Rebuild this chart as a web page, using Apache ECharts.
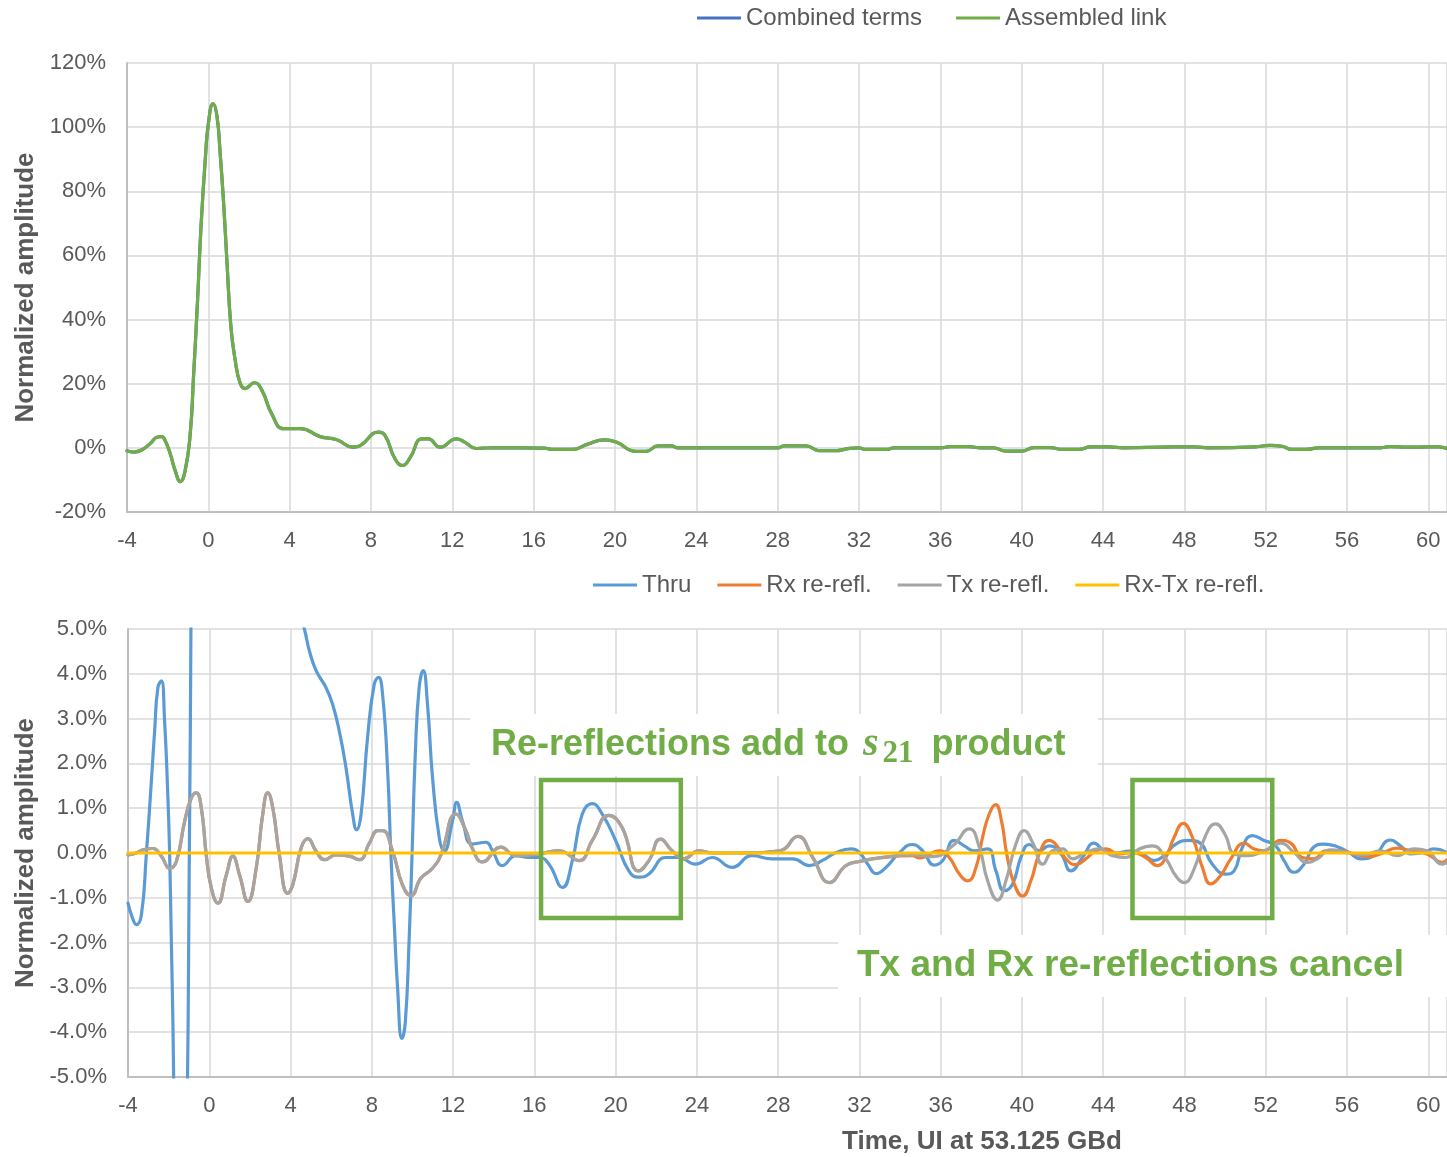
<!DOCTYPE html>
<html>
<head>
<meta charset="utf-8">
<script src="https://cdn.jsdelivr.net/npm/echarts@6/dist/echarts.min.js"></script>
<style>
  html, body { margin: 0; padding: 0; background: #ffffff; }
  #chart { width: 1447px; height: 1157px; }
</style>
</head>
<body>
<div id="chart"></div>
<script>
// Pulse response of the assembled link, in percent of the normalizing amplitude, vs. time in UI
const assembledLink = [
  [-4, -0.9], [-3.67, -1.3], [-3.26, -0.6], [-2.85, 1.4], [-2.5, 3.4], [-2.3, 3.5], [-2.15, 2.6],
  [-1.87, -1.9], [-1.63, -7.1], [-1.38, -10.5], [-1.14, -7.1], [-0.89, 4.4], [-0.73, 22], [-0.53, 46],
  [-0.36, 69], [-0.15, 90], [0.01, 101.5], [0.23, 107.3], [0.42, 103.6], [0.58, 92], [0.75, 76.5],
  [0.91, 58.7], [1.11, 37.8], [1.32, 27.4], [1.57, 20.1], [1.81, 18.5], [2.26, 20.3], [2.63, 18],
  [3.12, 10.6], [3.7, 6], [4.52, 6], [5.5, 3.5], [6.32, 2.5], [7.14, 0.2], [7.47, 0.7], [8.37, 4.9],
  [8.69, 3.9], [9.18, -3.4], [9.56, -5.5], [9.92, -3.1], [10.5, 2.8], [10.82, 2.8], [11.4, 0.2],
  [12.2, 2.8], [12.6, 1.8], [13.18, -0.2], [13.5, -0.1], [14, 0], [16.5, -0.1], [17.0, -0.5],
  [17.9, -0.5], [18.6, 1.0], [19.5, 2.5], [20.06, 1.8], [21.04, -1.1], [21.53, -1.1], [22.11, 0.6],
  [22.76, 0.6], [23.1, 0], [28.0, 0], [28.33, 0.6], [29.4, 0.6], [30.05, -0.9], [30.87, -0.9],
  [31.4, -0.3], [32.0, 0], [32.3, -0.5], [33.4, -0.5], [33.7, 0], [36.0, 0], [36.5, 0.4], [37.4, 0.4],
  [38.0, 0], [38.6, 0], [39.2, -1.0], [40.0, -1.0], [40.6, 0.1], [41.4, 0.1], [42.0, -0.5], [42.8, -0.5],
  [43.4, 0.3], [44.3, 0.3], [45.0, 0], [47.5, 0.3], [48.5, 0.3], [49.2, 0], [51.5, 0.3], [52.2, 0.8],
  [52.8, 0.5], [53.3, -0.5], [54.0, -0.5], [54.6, 0], [57.6, 0], [58.1, 0.4], [59.0, 0.2], [60.0, 0.3],
  [60.5, 0.3], [60.92, -0.2]
];
// The sum of the individual terms lies on top of the assembled link
const combinedTerms = assembledLink;

// Through path (goes far off the zoomed scale around the main cursor)
const thru = [
  [-4, -1.12], [-3.78, -1.45], [-3.59, -1.6], [-3.34, -1.38], [-3.1, -0.04], [-2.85, 1.6], [-2.69, 2.72],
  [-2.53, 3.69], [-2.36, 3.84], [-2.2, 2.95], [-2.03, 1.16], [-1.95, -0.04], [-1.87, -1.9], [-1.79, -3.77],
  [-1.7, -6.5], [-1.55, -9], [-1.4, -10.3], [-1.25, -9], [-1.12, -7.0], [-0.99, -0.5], [-0.89, 6],
  [-0.73, 22], [-0.53, 46], [-0.36, 69], [-0.15, 90], [0.01, 101.5], [0.23, 107.3], [0.42, 103.6],
  [0.58, 92], [0.75, 76.5], [0.91, 58.7], [1.11, 37.8], [1.32, 27.4], [1.57, 20.1], [1.81, 18.5],
  [2.26, 20.3], [2.63, 18], [3.12, 10.6], [3.7, 6.4], [4.3, 5.6], [4.68, 5.0], [4.93, 4.51], [5.26, 4.07],
  [5.75, 3.69], [6.07, 3.32], [6.4, 2.72], [6.73, 1.9], [7.06, 0.86], [7.25, 0.52], [7.47, 0.86],
  [7.79, 2.57], [8.12, 3.77], [8.33, 3.92], [8.53, 3.54], [8.78, 1.83], [8.94, -0.04], [9.1, -1.53],
  [9.27, -3.02], [9.48, -4.14], [9.65, -3.77], [9.84, -1.9], [9.98, -0.04], [10.14, 2.2], [10.33, 3.69],
  [10.53, 4.07], [10.74, 3.32], [10.99, 1.68], [11.32, 0.34], [11.56, 0.04], [11.97, 0.71], [12.18, 1.13],
  [12.46, 0.72], [12.95, 0.2], [13.61, 0.24], [13.94, 0.05], [14.43, -0.28], [15.09, -0.06], [15.74, -0.1],
  [16.23, -0.1], [16.72, -0.25], [17.38, -0.77], [17.87, -0.17], [18.36, 0.87], [18.85, 1.1], [19.34, 0.87],
  [20.0, 0.28], [20.65, -0.4], [21.14, -0.54], [21.64, -0.47], [22.46, -0.1], [23.11, -0.1], [23.93, -0.25],
  [24.75, -0.1], [25.73, -0.32], [26.71, -0.06], [27.7, -0.13], [28.72, -0.13], [29.54, -0.28], [30.2, -0.16],
  [30.85, 0.01], [31.59, 0.09], [32.0, 0.01], [32.41, -0.25], [32.82, -0.46], [33.31, -0.32], [33.97, 0.01],
  [34.62, 0.19], [35.11, 0.05], [35.69, -0.27], [36.1, -0.17], [36.67, 0.28], [37.16, 0.16], [37.65, 0.05],
  [38.31, 0.09], [38.72, -0.4], [39.13, -0.84], [39.54, -0.69], [39.95, -0.1], [40.36, 0.19], [40.85, 0.05],
  [41.34, 0.16], [41.92, -0.02], [42.41, -0.4], [42.98, -0.1], [43.55, 0.22], [44.05, 0.05], [44.62, 0],
  [45.27, 0.04], [45.93, -0.02], [46.5, -0.17], [46.99, -0.06], [47.57, 0.2], [48.22, 0.28], [48.71, 0.24],
  [49.37, -0.25], [50.02, -0.47], [50.44, -0.4], [50.85, 0.13], [51.34, 0.39], [51.92, 0.28], [52.49, 0.16],
  [52.9, -0.17], [53.39, -0.43], [53.88, -0.25], [54.38, 0.14], [54.87, 0.2], [55.52, 0.14], [56.1, 0.01],
  [56.67, -0.13], [57.32, -0.06], [58.14, 0.29], [58.63, 0.16], [59.13, -0.02], [59.78, 0.01], [60.27, 0.09],
  [60.92, 0.01]
];

// Tx and Rx re-reflections coincide up to ~33 UI
const reReflEarly = [
  [-4, -0.04], [-3.59, 0], [-3.26, 0.07], [-2.77, 0.1], [-2.36, -0.07], [-1.95, -0.34], [-1.62, -0.19],
  [-1.21, 0.71], [-0.88, 1.23], [-0.64, 1.34], [-0.39, 1.0], [-0.15, -0.04], [0.1, -0.78], [0.42, -1.12],
  [0.84, -0.49], [1.16, -0.07], [1.49, -0.49], [1.9, -1.08], [2.31, -0.34], [2.63, 0.86], [2.88, 1.34],
  [3.13, 1.0], [3.45, -0.04], [3.86, -0.9], [4.11, -0.71], [4.52, 0.11], [4.85, 0.32], [5.26, 0.04],
  [5.67, -0.15], [6.24, -0.04], [6.9, -0.07], [7.39, -0.15], [7.88, 0.22], [8.3, 0.5], [8.53, 0.5],
  [9.02, 0.04], [9.51, -0.71], [9.93, -0.95], [10.42, -0.56], [10.99, -0.34], [11.4, -0.04], [12.14, 0.87],
  [12.63, 0.5], [12.95, 0.1], [13.44, -0.2], [14.35, 0.13], [15.09, -0.06], [16.23, -0.02], [17.21, 0.05],
  [18.2, -0.17], [18.85, 0.28], [19.67, 0.84], [20.32, 0.57], [21.14, -0.4], [21.64, -0.17], [22.21, 0.31],
  [22.78, 0.05], [23.36, -0.13], [24.09, 0.05], [24.75, 0], [26.05, 0], [28.07, 0.05], [28.97, 0.37],
  [29.7, -0.1], [30.53, -0.66], [31.34, -0.28], [32.0, -0.19], [32.98, -0.11]
];
const txLate = [
  [34.62, -0.04], [35.6, -0.08], [36.59, 0.16], [37.41, 0.54], [37.9, 0.13], [38.31, -0.62], [38.8, -1.05],
  [39.21, -0.62], [39.7, 0.2], [40.11, 0.5], [40.52, 0.24], [41.02, -0.25], [41.51, 0.05], [42.0, 0.09],
  [42.49, -0.13], [43.14, 0.01], [43.8, 0.09], [44.46, -0.06], [45.11, -0.1], [45.77, 0.09], [46.42, 0.16],
  [47.08, -0.13], [47.57, -0.51], [47.98, -0.66], [48.47, -0.36], [49.04, 0.39], [49.53, 0.65], [50.02, 0.39],
  [50.44, -0.02], [51.1, -0.06], [51.92, 0.05], [52.74, 0.22], [53.39, 0.01], [54.05, -0.21], [54.54, -0.13],
  [55.19, 0.07], [56.01, 0.01], [56.83, -0.04], [57.65, 0.05], [58.47, -0.06], [59.29, 0.09], [59.94, 0.05],
  [60.68, -0.25], [60.92, -0.2]
];
const rxLate = [
  [34.62, -0.06], [34.95, -0.11], [35.93, 0.05], [36.42, -0.1], [36.92, -0.47], [37.33, -0.62], [37.74, -0.32],
  [38.06, 0.35], [38.39, 0.87], [38.7, 1.08], [39.0, 0.7], [39.25, -0.02], [39.62, -0.69], [40.03, -0.96],
  [40.44, -0.62], [40.85, -0.02], [41.34, 0.28], [41.67, 0.19], [42.16, -0.13], [42.65, -0.26], [43.14, -0.13],
  [43.64, 0.05], [44.13, 0.09], [44.78, -0.02], [45.44, 0.01], [46.09, -0.1], [46.67, -0.28], [47.08, -0.1],
  [47.49, 0.35], [47.93, 0.66], [48.39, 0.35], [48.88, -0.32], [49.29, -0.69], [49.78, -0.5], [50.28, -0.13],
  [50.94, 0.22], [51.43, 0.09], [51.92, 0.05], [52.74, 0.28], [53.23, 0.22], [53.8, -0.1], [54.38, -0.13],
  [54.95, 0.05], [55.69, 0.05], [56.34, -0.02], [57.0, -0.08], [57.65, -0.02], [58.47, 0.11], [59.13, 0.05],
  [59.94, -0.02], [60.68, -0.21], [60.92, -0.15]
];
const rxTxReRefl = [[-4, 0], [10, 0], [20, 0], [30, 0], [40, 0], [50, 0], [60.92, 0]];

// Axis ranges
const timeRange = [-4, 60.92];
const timeStep = 4;
const topRange = [-20, 120];
const topStep = 20;
const zoomRange = [-5, 5];
const zoomStep = 1;

// Highlighted time windows on the zoomed plot: [t0, v0, t1, v1]
const highlightSpans = [[16.33, 1.63, 23.21, -1.45], [45.44, 1.63, 52.32, -1.45]];

const FONT = "'Liberation Sans', Arial, Helvetica, sans-serif";
const SERIF = "'Liberation Serif', 'DejaVu Serif', serif";
const TXT = '#595959';
const GREEN = '#70AD47';

function xAxisCfg(gi) {
  return {
    type: 'value', gridIndex: gi, min: timeRange[0], max: timeRange[1], interval: timeStep,
    axisLine: { onZero: false, lineStyle: { color: '#BFBFBF', width: 2 } },
    axisTick: { show: false },
    axisLabel: { color: TXT, fontSize: 22, fontFamily: FONT, margin: 18, showMaxLabel: false },
    splitLine: { lineStyle: { color: '#D9D9D9', width: 1.5 } }
  };
}
function yAxisCfg(gi, range, step, fmt) {
  return {
    type: 'value', gridIndex: gi, min: range[0], max: range[1], interval: step,
    name: 'Normalized amplitude', nameLocation: 'middle', nameRotate: 90, nameGap: 88,
    nameTextStyle: { color: TXT, fontSize: 26, fontWeight: 'bold', fontFamily: FONT },
    axisLine: { show: true, onZero: false, lineStyle: { color: '#BFBFBF', width: 2 } },
    axisTick: { show: false },
    axisLabel: { color: TXT, fontSize: 22, fontFamily: FONT, margin: 21, formatter: fmt },
    splitLine: { lineStyle: { color: '#D9D9D9', width: 1.5 } }
  };
}
function lineSeries(name, data, color, xi, yi) {
  return {
    name: name, type: 'line', data: data, xAxisIndex: xi, yAxisIndex: yi,
    symbol: 'none', showSymbol: false, smooth: 0.5,
    lineStyle: { color: color, width: 3.2, join: 'round', cap: 'round' },
    itemStyle: { color: color }, clip: true
  };
}

const chart = echarts.init(document.getElementById('chart'), null, { renderer: 'canvas' });

chart.setOption({
  animation: false,
  backgroundColor: '#ffffff',
  legend: [
    {
      data: ['Combined terms', 'Assembled link'], left: 692, top: 1,
      icon: 'rect', itemWidth: 44, itemHeight: 3, itemGap: 34,
      textStyle: { color: TXT, fontSize: 24, fontFamily: FONT }
    },
    {
      data: ['Thru', 'Rx re-refl.', 'Tx re-refl.', 'Rx-Tx re-refl.'], left: 588, top: 568,
      icon: 'rect', itemWidth: 44, itemHeight: 3, itemGap: 26,
      textStyle: { color: TXT, fontSize: 24, fontFamily: FONT }
    }
  ],
  grid: [
    { left: 127, right: 0, top: 63, height: 449 },
    { left: 128, right: 0, top: 629, height: 448 }
  ],
  xAxis: [xAxisCfg(0), xAxisCfg(1)],
  yAxis: [
    yAxisCfg(0, topRange, topStep, '{value}%'),
    yAxisCfg(1, zoomRange, zoomStep, v => v.toFixed(1) + '%')
  ],
  series: [
    lineSeries('Combined terms', combinedTerms, '#4472C4', 0, 0),
    lineSeries('Assembled link', assembledLink, GREEN, 0, 0),
    lineSeries('Thru', thru, '#5B9BD5', 1, 1),
    lineSeries('Rx re-refl.', reReflEarly.concat(rxLate), '#ED7D31', 1, 1),
    lineSeries('Tx re-refl.', reReflEarly.concat(txLate), '#A5A5A5', 1, 1),
    lineSeries('Rx-Tx re-refl.', rxTxReRefl, '#FFC000', 1, 1)
  ]
});

// Annotation layer: highlight boxes in data coordinates plus callout texts
const boxes = highlightSpans.map(s => {
  const p0 = chart.convertToPixel({ gridIndex: 1 }, [s[0], s[1]]);
  const p1 = chart.convertToPixel({ gridIndex: 1 }, [s[2], s[3]]);
  return {
    type: 'rect', z: 100,
    shape: { x: p0[0], y: p0[1], width: p1[0] - p0[0], height: p1[1] - p0[1] },
    style: { fill: 'none', stroke: GREEN, lineWidth: 4.5 }
  };
});

chart.setOption({
  graphic: [
    {
      type: 'rect', z: 90, shape: { x: 470, y: 714, width: 628, height: 62 },
      style: { fill: '#ffffff' }
    },
    {
      type: 'text', z: 95, x: 491, y: 745,
      style: {
        text: '{a|Re-reflections add to }{s|s}{sub|21}{a| product}',
        verticalAlign: 'middle', align: 'left',
        rich: {
          a: { fontSize: 36, fontWeight: 'bold', fontFamily: FONT, fill: GREEN, lineHeight: 48 },
          s: { fontSize: 40, fontWeight: 'bold', fontStyle: 'italic', fontFamily: SERIF, fill: GREEN, lineHeight: 48, padding: [0, 3, 0, 4] },
          sub: { fontSize: 31, fontWeight: 'bold', fontFamily: SERIF, fill: GREEN, lineHeight: 48, verticalAlign: 'bottom', padding: [0, 8, 0, 1] }
        }
      }
    },
    {
      type: 'rect', z: 90, shape: { x: 838, y: 935, width: 609, height: 62 },
      style: { fill: '#ffffff' }
    },
    {
      type: 'text', z: 95, x: 857, y: 966,
      style: {
        text: 'Tx and Rx re-reflections cancel', verticalAlign: 'middle', align: 'left',
        fontSize: 37, fontWeight: 'bold', fontFamily: FONT, fill: GREEN
      }
    },
    {
      type: 'text', z: 95, x: 982, y: 1142,
      style: {
        text: 'Time, UI at 53.125 GBd', align: 'center', verticalAlign: 'middle',
        fontSize: 26, fontWeight: 'bold', fontFamily: FONT, fill: TXT
      }
    }
  ].concat(boxes)
});
</script>
</body>
</html>
